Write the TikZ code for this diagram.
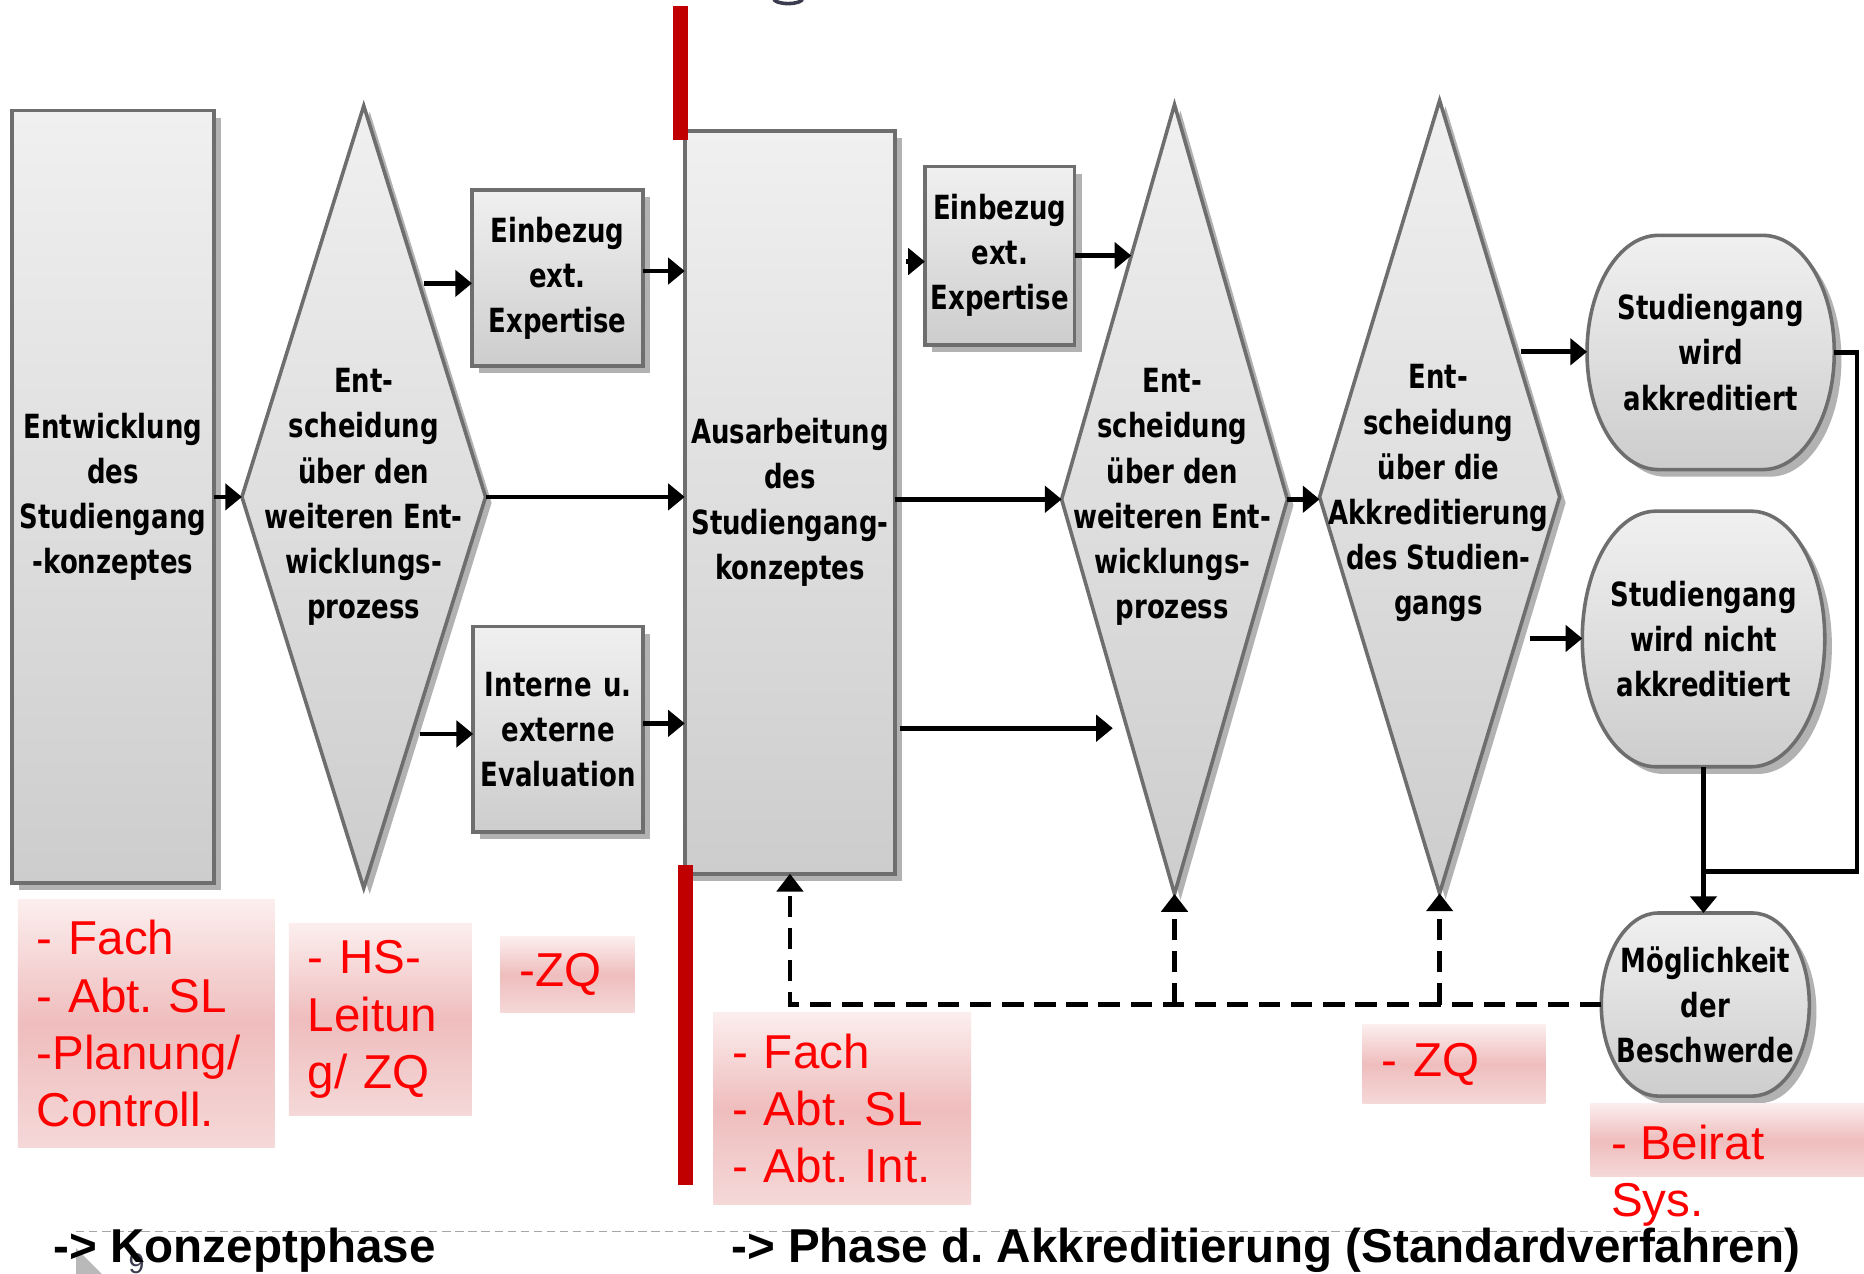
\documentclass[tikz,border=0pt]{standalone}
\usepackage{fontspec}
\setmainfont{Liberation Sans}
\newfontfamily\bxfont[FakeStretch=0.78]{DejaVu Sans}
\usetikzlibrary{shapes.geometric,shadows,arrows.meta,calc}
\definecolor{fillT}{HTML}{F0F0F0}
\definecolor{fillB}{HTML}{CDCDCD}
\definecolor{bordergray}{HTML}{6E6E6E}
\definecolor{shadowgray}{HTML}{B2B2B2}
\definecolor{redbar}{HTML}{C00000}
\definecolor{pinkT}{HTML}{FCEEEE}
\definecolor{pinkM}{HTML}{EFBDBD}
\definecolor{pinkB}{HTML}{F5D8D8}
\definecolor{redtext}{HTML}{FF0000}
\definecolor{slate}{HTML}{3C3C50}
\newcommand\boxtext{\bxfont\bfseries\fontsize{28}{38}\selectfont}
\newcommand\redfont{\fontsize{40}{48}\selectfont\frenchspacing}
\newcommand\termnode[7]{%
  \begin{scope}[shift={(6,6)}]
  \fill[shadowgray] ({#2+#4/2-#6},{#3-#5/2}) arc[start angle=-90,end angle=90,x radius=#6,y radius=#5/2]
    -- ({#2-#4/2+#6},{#3+#5/2}) arc[start angle=90,end angle=270,x radius=#6,y radius=#5/2] -- cycle;
  \end{scope}
  \shade[top color=fillT,bottom color=fillB] ({#2+#4/2-#6},{#3-#5/2}) arc[start angle=-90,end angle=90,x radius=#6,y radius=#5/2]
    -- ({#2-#4/2+#6},{#3+#5/2}) arc[start angle=90,end angle=270,x radius=#6,y radius=#5/2] -- cycle;
  \draw[bordergray,line width=3pt] ({#2+#4/2-#6},{#3-#5/2}) arc[start angle=-90,end angle=90,x radius=#6,y radius=#5/2]
    -- ({#2-#4/2+#6},{#3+#5/2}) arc[start angle=90,end angle=270,x radius=#6,y radius=#5/2] -- cycle;
  \node[termtext,minimum width=#4pt,minimum height=#5pt] (#1) at (#2,#3) {#7};
}
\tikzset{
  box/.style={rectangle,draw=bordergray,line width=3pt,top color=fillT,bottom color=fillB,
    drop shadow={shadow xshift=6pt,shadow yshift=-6pt,fill=shadowgray,opacity=1},
    inner sep=0pt,outer sep=0pt,align=center,font=\boxtext},
  dia/.style={diamond,draw=bordergray,line width=3pt,top color=fillT,bottom color=fillB,
    drop shadow={shadow xshift=5pt,shadow yshift=-5pt,fill=shadowgray,opacity=1},
    inner sep=0pt,outer sep=0pt},
  dtext/.style={align=center,font=\boxtext,inner sep=0pt},
  termtext/.style={rectangle,align=center,font=\boxtext,inner sep=0pt,outer sep=0pt},
  arr/.style={line width=4pt,-{Triangle[length=14pt,width=22pt]}},
  dasharr/.style={line width=4pt,dash pattern=on 18pt off 9pt,-{Triangle[length=15pt,width=22pt]}},
  plain/.style={line width=4pt},
  pinkbox/.style={rectangle,top color=pinkT,bottom color=pinkB,middle color=pinkM,
    inner xsep=16pt,inner ysep=0pt,outer sep=0pt,align=left,font=\redfont,text=redtext},
  redlbl/.style={inner sep=0pt,align=left,font=\redfont,text=redtext},
  phase/.style={inner sep=0pt,font=\fontsize{40}{48}\selectfont\bfseries\frenchspacing}
}
\begin{document}
\frenchspacing
\begin{tikzpicture}[x=1pt,y=-1pt]
\useasboundingbox (0,0) rectangle (1568,1071);
\fill[white] (0,0) rectangle (1568,1071);

% fragment of title glyph at the top
\draw[slate,line width=3pt] (675,-1) arc[start angle=0,end angle=180,x radius=12,y radius=4];

% main shapes
\node[box,minimum width=170pt,minimum height=650pt,text width=170pt] (b1) at (95,418)
  {Entwicklung\\des\\Studiengang\\-konzeptes};
\node[dia,minimum width=205pt,minimum height=658pt] (d1) at (306,418) {};
\node[dtext] (d1t) at (306,418) {Ent-\\scheidung\\über den\\weiteren Ent-\\wicklungs-\\prozess};
\node[box,minimum width=144pt,minimum height=148pt,text width=144pt] (e1) at (469,234)
  {Einbezug\\ext.\\Expertise};
\node[box,minimum width=143pt,minimum height=173pt,text width=143pt] (i1) at (469.5,613.5)
  {Interne u.\\externe\\Evaluation};
\node[box,minimum width=177pt,minimum height=625pt,text width=177pt] (au) at (664.5,422.5)
  {Ausarbeitung\\des\\Studiengang-\\konzeptes};
\node[box,minimum width=126pt,minimum height=150pt,text width=126pt] (e2) at (841,215)
  {Einbezug\\ext.\\Expertise};
\node[dia,minimum width=190pt,minimum height=664pt] (d2) at (988,420) {};
\node[dtext] (d2t) at (986,418) {Ent-\\scheidung\\über den\\weiteren Ent-\\wicklungs-\\prozess};
\node[dia,minimum width=202pt,minimum height=667pt] (d3) at (1211,418) {};
\node[dtext] (d3t) at (1210,415) {Ent-\\scheidung\\über die\\Akkreditierung\\des Studien-\\gangs};

\termnode{t1}{1439}{296.5}{208}{197}{60}{Studiengang\\wird\\akkreditiert}
\termnode{t2}{1433}{537.5}{204}{215}{62}{Studiengang\\wird nicht\\akkreditiert}
\termnode{mg}{1434.5}{845}{175}{154}{48}{Möglichkeit\\der\\Beschwerde}

% connectors
\draw[arr] (b1.east) -- (d1.west);
\coordinate (p1) at ($(d1.north)!0.454!(d1.east)$);
\draw[arr] ([xshift=4pt]p1) -- (p1 -| e1.west);
\coordinate (p2) at ($(d1.east)!0.606!(d1.south)$);
\draw[arr] ([xshift=7pt]p2) -- (p2 -| i1.west);
\draw[arr] (d1.east) -- (d1.east -| au.west);
\coordinate (e1o) at ([yshift=6pt]e1.east);
\draw[arr] (e1o) -- (e1o -| au.west);
\coordinate (i1o) at ([yshift=5pt]i1.east);
\draw[arr] (i1o) -- (i1o -| au.west);
\coordinate (e2i) at ([yshift=-5pt]e2.west);
\coordinate (aue) at (au.east |- e2i);
\draw[arr] ([xshift=9pt]aue) -- (e2i);
\coordinate (q1) at ($(d2.north)!0.383!(d2.west)$);
\draw[arr] (e2.east) -- (e2.east -| q1);
\draw[arr] (au.east |- d2.west) -- (d2.west);
\coordinate (q2) at ($(d2.west)!0.58!(d2.south)+(-12,0)$);
\coordinate (auq) at (au.east |- q2);
\draw[arr] ([xshift=4pt]auq) -- (q2);
\draw[arr] (d2.east) -- (d2.east -| d3.west);
\coordinate (r1) at ($(d3.north)!0.634!(d3.east)$);
\draw[arr] ([xshift=4pt]r1) -- (r1 -| t1.west);
\coordinate (r2) at ($(d3.east)!0.357!(d3.south)$);
\draw[arr] ([xshift=11pt]r2) -- (r2 -| t2.west);
\coordinate (jn) at (1433,733);
\draw[plain] (t1.east) -- ++(19,0) |- (jn);
\draw[arr] (t2.south) -- (t2.south |- mg.north);
\draw[dasharr] (mg.west) -- (mg.west -| au.south) -- (au.south);
\draw[dasharr] (mg.west -| d2.south) -- (d2.south);
\draw[dasharr] (mg.west -| d3.south) -- (d3.south);

% red separators
\fill[redbar] (566,5) rectangle (579,118);
\fill[redbar] (570,728) rectangle (583,997);

% pink role boxes
\node[pinkbox,minimum width=216pt,minimum height=208pt,text width=184pt] (pA) at (123,861)
  {- Fach\\- Abt. SL\\-Planung/\\Controll.};
\node[pinkbox,minimum width=154pt,minimum height=161pt,text width=122pt] (pB) at (320,857.5)
  {- HS-\\Leitun\\g/ ZQ};
\node[pinkbox,minimum width=113pt,minimum height=64pt,text width=81pt] (pC) at (477.5,820)
  {-ZQ};
\node[pinkbox,minimum width=217pt,minimum height=161pt,text width=185pt] (pD) at (708.5,932.5)
  {- Fach\\- Abt. SL\\- Abt. Int.};
\node[pinkbox,minimum width=154pt,minimum height=66pt,text width=122pt] (pE) at (1223,895)
  {- ZQ};
\node[pinkbox,minimum width=242pt,minimum height=62pt] (pF) at (1459,959) {};
\node[redlbl,anchor=north west] (pFt) at (1355,946) {- Beirat\\Sys.};

% bottom phase line and labels
\draw[gray!70,line width=1.5pt,dash pattern=on 7pt off 4pt] (64,1036) -- (1510,1036);
\fill[gray!55] (64,1050) -- (88,1074) -- (64,1074) -- cycle;
\node[inner sep=0pt,anchor=base west,text=slate,font=\fontsize{24}{24}\selectfont] (pg) at (108,1071) {9};
\node[phase,anchor=base west] (ph1) at (45,1062) {-> Konzeptphase};
\node[phase,anchor=base west] (ph2) at (615,1062) {-> Phase d. Akkreditierung (Standardverfahren)};
\end{tikzpicture}
\end{document}
